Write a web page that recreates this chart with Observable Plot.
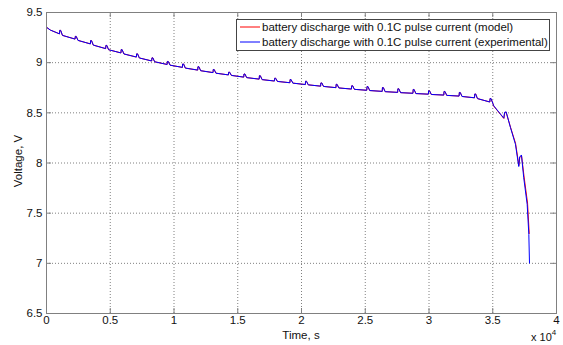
<!DOCTYPE html>
<html><head><meta charset="utf-8">
<script src="https://cdn.jsdelivr.net/npm/d3@7"></script>
<script src="https://cdn.jsdelivr.net/npm/@observablehq/plot@0.6"></script>
<style>
body{margin:0;background:#fff;}
#chart{position:relative;width:563px;height:345px;}
</style>
</head><body><div id="chart"></div>
<script>
// ---- data ----
const xTicks = [0, 5000, 10000, 15000, 20000, 25000, 30000, 35000, 40000];
const yTicks = [6.5, 7, 7.5, 8, 8.5, 9, 9.5];
const seriesNames = ["battery discharge with 0.1C pulse current (model)",
                     "battery discharge with 0.1C pulse current (experimental)"];
const startTime = [0, 300];
const startVolt = [9.353, 9.325];
const pulseTime = [1020, 2240, 3440, 4640, 5840, 7050, 8250, 9460, 10660, 11860, 13060, 14270, 15470, 16680, 17880,
                   19090, 20300, 21500, 22700, 23920, 25120, 26330, 27540, 28740, 29950, 31160, 32360, 33570, 34770];
const preVolt  = [9.287, 9.235, 9.187, 9.140, 9.097, 9.056, 9.017, 8.982, 8.953, 8.926, 8.901, 8.878, 8.856, 8.836, 8.817,
                  8.800, 8.782, 8.766, 8.751, 8.737, 8.725, 8.714, 8.704, 8.695, 8.686, 8.677, 8.667, 8.650, 8.608];
const peakVolt = [9.322, 9.262, 9.220, 9.172, 9.130, 9.088, 9.048, 9.012, 8.987, 8.960, 8.932, 8.905, 8.887, 8.870, 8.845,
                  8.832, 8.815, 8.798, 8.784, 8.770, 8.762, 8.752, 8.740, 8.733, 8.720, 8.713, 8.703, 8.688, 8.643];
const postVolt = [9.272, 9.222, 9.175, 9.129, 9.087, 9.047, 9.009, 8.975, 8.946, 8.920, 8.895, 8.873, 8.851, 8.831, 8.813,
                  8.796, 8.779, 8.763, 8.748, 8.734, 8.722, 8.711, 8.701, 8.692, 8.683, 8.674, 8.663, 8.642, 8.596];
const expTailTime = [35080, 35610, 35870, 35930, 36050, 36390, 36780, 37040, 37110, 37250, 37430, 37700, 37830, 37882];
const expTailVolt = [8.570, 8.487, 8.447, 8.505, 8.510, 8.353, 8.187, 7.965, 8.060, 8.080, 7.853, 7.587, 7.287, 7.003];
const modelTailTime = [35080, 35610, 35870, 35930, 36050, 36390, 36790, 37050, 37120, 37260, 37450, 37730, 37860];
const modelTailVolt = [8.566, 8.484, 8.444, 8.500, 8.506, 8.358, 8.195, 7.975, 8.055, 8.072, 7.870, 7.600, 7.297];

// ---- build series ----
function build(tailT, tailV) {
  const pts = [];
  startTime.forEach((t, i) => pts.push({t, v: startVolt[i]}));
  pulseTime.forEach((t, i) => {
    pts.push({t, v: preVolt[i]});
    pts.push({t: t + 20, v: peakVolt[i]});
    pts.push({t: t + 90, v: peakVolt[i]});
    pts.push({t: t + 230, v: postVolt[i]});
  });
  tailT.forEach((t, i) => pts.push({t, v: tailV[i]}));
  return pts;
}
const expData = build(expTailTime, expTailVolt);
const modelData = build(modelTailTime, modelTailVolt);

const W = 563, H = 345, mL = 46, mR = 7, mT = 12, mB = 32;
const font = "'Liberation Sans', Arial, Helvetica, sans-serif";
const fmtX = d => String(d / 1e4);
const fmtY = d => String(d);

const plot = Plot.plot({
  width: W, height: H,
  marginLeft: mL, marginRight: mR, marginTop: mT, marginBottom: mB,
  style: {fontFamily: font, fontSize: "11px", color: "#111", background: "#fff", overflow: "visible"},
  x: {domain: [0, 40000], ticks: xTicks, tickFormat: fmtX, label: null},
  y: {domain: [6.5, 9.5], ticks: yTicks, tickFormat: fmtY, label: null},
  marks: [
    Plot.gridX(xTicks, {stroke: "#808080", strokeOpacity: 1, strokeDasharray: "1,2"}),
    Plot.gridY(yTicks, {stroke: "#808080", strokeOpacity: 1, strokeDasharray: "1,2"}),
    Plot.line(modelData, {x: "t", y: "v", stroke: "#ff0000", strokeWidth: 1}),
    Plot.line(expData, {x: "t", y: "v", stroke: "#0000ff", strokeWidth: 1}),
    Plot.ruleX(xTicks, {stroke: "#808080", insetTop: H - mT - mB - 5}),
    Plot.ruleX(xTicks, {stroke: "#808080", insetBottom: H - mT - mB - 5}),
    Plot.ruleY(yTicks, {stroke: "#808080", insetRight: W - mL - mR - 5}),
    Plot.ruleY(yTicks, {stroke: "#808080", insetLeft: W - mL - mR - 5}),
    Plot.frame({stroke: "#808080"}),
    Plot.axisX(xTicks, {tickFormat: fmtX, tickSize: 0, tickPadding: 2, fontSize: 11.5, label: null}),
    Plot.axisY(yTicks, {tickFormat: fmtY, tickSize: 0, tickPadding: 4, fontSize: 11.5, label: null})
  ]
});
document.getElementById("chart").appendChild(plot);

// ---- titles and legend ----
const svg = d3.select(plot);
svg.append("text").attr("x", 301).attr("y", 339).attr("text-anchor", "middle")
  .attr("font-family", font).attr("font-size", 11.5).attr("fill", "#111").text("Time, s");
svg.append("text").attr("transform", "translate(22,161) rotate(-90)").attr("text-anchor", "middle")
  .attr("font-family", font).attr("font-size", 11.5).attr("fill", "#111").text("Voltage, V");
const mult = svg.append("text").attr("x", 531).attr("y", 341).attr("text-anchor", "start")
  .attr("font-family", font).attr("font-size", 11).attr("fill", "#111");
mult.append("tspan").text("x 10");
mult.append("tspan").attr("dy", -6).attr("font-size", 8).text("4");

const lg = svg.append("g").attr("text-anchor", "start");
lg.append("rect").attr("x", 236.5).attr("y", 19.5).attr("width", 313).attr("height", 31)
  .attr("fill", "#fff").attr("stroke", "#444");
const colors = ["#ff0000", "#0000ff"];
seriesNames.forEach((name, i) => {
  const y = 27 + i * 15;
  lg.append("line").attr("x1", 240).attr("x2", 260).attr("y1", y).attr("y2", y)
    .attr("stroke", colors[i]).attr("stroke-width", 1);
  lg.append("text").attr("x", 262).attr("y", y + 4).attr("text-anchor", "start")
    .attr("font-family", font).attr("font-size", 11.5).attr("fill", "#111").text(name);
});
</script>
</body></html>
